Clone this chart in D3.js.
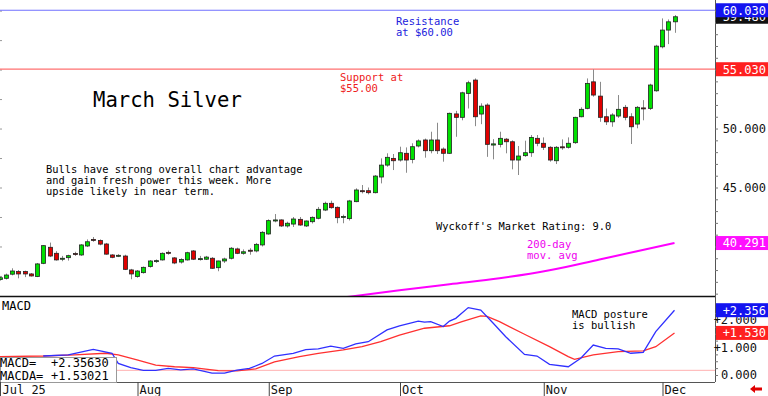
<!DOCTYPE html>
<html>
<head>
<meta charset="utf-8">
<script src="https://cdn.jsdelivr.net/npm/d3@7"></script>
<style>
  html, body { margin: 0; padding: 0; background: #fff; }
  svg { display: block; font-family: "DejaVu Sans Mono", monospace; }
</style>
</head>
<body>
<svg id="chart"></svg>
<script>
// daily bars, Jul 1 .. Dec 3 (index 0..108)
const opens = [37.20,37.30,37.65,37.87,37.87,37.67,37.45,38.57,39.93,39.42,38.95,39.05,39.40,39.28,40.04,40.60,40.50,40.21,39.28,39.17,39.19,38.01,
  37.45,37.78,38.30,38.72,38.86,39.50,39.03,38.68,38.86,39.62,38.92,38.92,39.00,38.20,38.77,39.00,39.79,39.42,39.68,39.62,40.13,
  41.06,42.16,42.25,41.74,41.90,42.30,41.74,42.10,42.39,43.09,43.66,43.32,42.50,42.36,43.80,44.73,44.73,44.56,45.89,46.90,47.47,
  47.33,47.90,47.37,48.52,49.03,48.12,49.03,48.26,47.90,51.24,50.95,52.98,54.11,51.23,51.99,48.60,48.66,49.10,48.88,47.33,47.70,47.95,49.17,
  48.75,48.41,47.27,48.45,48.41,48.80,51.00,51.71,53.96,52.75,51.00,50.57,51.06,51.80,51.00,50.38,51.75,51.71,53.20,
  56.93,58.35,59.05];
const highs = [37.45,37.70,38.15,38.00,37.95,37.75,38.60,40.10,40.33,39.60,39.20,39.30,39.55,40.20,40.60,40.80,40.60,40.30,39.35,39.35,39.30,38.10,
  38.00,38.30,38.85,38.90,39.50,39.65,39.10,39.00,39.55,39.70,39.20,39.20,39.10,38.80,39.05,39.95,39.90,39.75,39.85,40.30,41.30,
  42.30,42.75,42.30,42.10,42.50,42.50,42.20,42.55,43.35,43.80,43.88,43.40,42.70,43.95,44.93,45.21,45.00,46.06,47.47,47.90,47.84,
  48.46,48.40,48.75,49.08,49.15,49.73,50.49,48.40,51.35,51.50,53.12,54.05,54.25,52.14,52.14,49.10,49.73,49.20,49.00,48.52,48.97,49.45,49.45,
  49.25,48.50,48.52,49.08,49.25,51.00,51.80,54.25,55.02,53.96,51.70,51.30,52.84,52.00,51.30,51.91,52.41,53.80,57.10,
  59.34,59.25,59.62];
const lows = [37.10,37.20,37.55,37.30,37.40,37.45,37.40,38.50,39.10,38.80,38.75,38.80,39.20,39.20,39.95,40.40,40.10,39.30,39.00,39.10,38.00,37.22,
  37.35,37.70,38.20,38.60,38.80,39.30,38.50,38.55,38.80,38.85,38.80,38.85,38.10,37.90,38.60,38.90,39.35,39.30,39.30,39.50,40.00,
  41.00,42.05,41.65,41.60,41.65,41.75,41.65,41.95,42.30,43.00,43.20,41.97,41.97,42.20,43.75,44.50,44.42,44.50,45.35,46.76,46.48,
  47.20,46.25,47.05,48.40,47.53,47.90,47.84,47.19,47.85,49.30,50.70,51.70,50.20,50.37,47.60,47.39,48.40,47.90,46.54,46.06,47.60,47.60,48.50,
  48.18,47.19,46.99,48.20,48.30,48.70,50.95,51.63,52.70,50.57,50.30,50.15,50.90,50.70,48.69,50.02,50.70,51.57,53.12,
  56.80,57.16,58.12];
const closes = [37.35,37.58,37.92,37.67,37.67,37.50,38.52,40.07,39.19,38.86,39.00,39.22,39.35,40.13,40.40,40.55,40.20,39.35,39.08,39.25,38.06,37.67,
  37.92,38.23,38.77,38.80,39.42,39.45,38.60,38.90,39.47,38.92,38.97,39.10,38.15,38.77,38.94,39.85,39.42,39.55,39.62,40.18,41.20,
  42.19,42.25,41.74,41.97,42.33,41.82,42.16,42.47,43.15,43.66,43.29,42.44,42.55,43.86,44.79,44.70,44.56,45.97,46.90,47.56,47.27,
  47.95,47.33,48.46,48.95,48.12,49.03,48.12,47.90,51.29,50.95,53.03,53.88,51.00,51.90,48.66,48.70,49.17,48.88,47.33,47.67,47.95,49.25,48.75,
  48.41,47.33,48.41,48.38,48.75,50.95,51.63,53.83,52.84,50.95,50.57,51.15,51.63,50.95,50.15,51.80,51.71,53.69,56.99,
  58.35,59.05,59.48];

// 200-day moving average, read at a few bars
const maIdx = [53, 56, 64, 72, 80, 88, 96, 102, 108];
const maVals = [35.55, 35.74, 36.29, 36.80, 37.30, 37.98, 38.90, 39.60, 40.29];

// MACD (blue) and MACDA (red), read at a few bars
const macdIdx = [7, 11, 15, 18, 19, 21, 23, 25, 27, 29, 31, 34, 36, 38, 40, 42, 44, 47, 49, 51, 53, 55, 57, 59, 62, 64, 67, 68, 69, 71, 72, 73, 75, 77, 79, 81, 84, 86, 88, 91, 93, 95, 97, 99, 101, 103, 105, 108];
const macdVals = [0.69, 0.73, 0.93, 0.79, 0.42, 0.27, 0.17, 0.17, 0.24, 0.19, 0.22, 0.07, 0.07, 0.18, 0.24, 0.42, 0.69, 0.79, 0.92, 0.95, 1.05, 0.97, 1.13, 1.21, 1.64, 1.79, 1.96, 1.92, 1.94, 1.76, 1.96, 2.06, 2.45, 2.36, 1.88, 1.39, 0.75, 0.69, 0.39, 0.30, 0.61, 1.09, 0.97, 0.95, 0.79, 0.82, 1.58, 2.356];
const signalIdx = [0, 7, 12, 17, 19, 22, 25, 28, 31, 35, 38, 41, 44, 48, 51, 55, 58, 61, 64, 68, 72, 74, 77, 78, 80, 84, 88, 91, 92, 95, 99, 103, 105, 108];
const signalVals = [0.67, 0.69, 0.73, 0.79, 0.73, 0.55, 0.36, 0.30, 0.27, 0.16, 0.15, 0.22, 0.48, 0.67, 0.79, 0.91, 1.03, 1.21, 1.45, 1.70, 1.79, 1.94, 2.15, 2.13, 1.94, 1.48, 1.03, 0.67, 0.57, 0.73, 0.85, 0.88, 1.03, 1.530];

const monthIdx = [0, 22, 43, 64, 87, 106];
const monthLabels = ["Jul 25", "Aug", "Sep", "Oct", "Nov", "Dec"];
const priceTicks = [45, 50];
const macdTicks = [0, 1, 2];

const resistance = 60.03, support = 55.03;

const width = 768, height = 396;
const plotRight = 715;
const mainTop = 0, mainBottom = 296;
const macdTop = 297, macdBottom = 382;

const svg = d3.select("#chart").attr("width", width).attr("height", height);

const x = d3.scaleLinear().domain([0, 108]).range([-0.5, 674.5]);
const y = d3.scaleLinear().domain([35.8, 60.9]).range([mainBottom, mainTop]);
const yM = d3.scaleLinear().domain([0, 2.356]).range([375, 310.2]);

svg.append("defs").append("clipPath").attr("id", "mainClip")
  .append("rect").attr("x", 0).attr("y", 0).attr("width", plotRight).attr("height", mainBottom);
svg.select("defs").append("clipPath").attr("id", "macdClip")
  .append("rect").attr("x", 0).attr("y", macdTop).attr("width", plotRight).attr("height", macdBottom - macdTop);

// left edge ticks
svg.append("g")
  .call(d3.axisRight(y).tickValues(d3.range(37.5, 60.1, 2.5)).tickSize(2).tickFormat(""))
  .call(g => g.select(".domain").remove())
  .call(g => g.selectAll("line").attr("stroke", "#999"));

// support / resistance
const main = svg.append("g").attr("clip-path", "url(#mainClip)");
main.append("line")
  .attr("x1", 0).attr("x2", plotRight)
  .attr("y1", y(resistance)).attr("y2", y(resistance))
  .attr("stroke", "#7070ff").attr("stroke-width", 1.2);
main.append("line")
  .attr("x1", 0).attr("x2", plotRight)
  .attr("y1", y(support)).attr("y2", y(support))
  .attr("stroke", "#ff7070").attr("stroke-width", 1.2);

// 200-day MA
const maLine = d3.line().x(d => x(d[0])).y(d => y(d[1])).curve(d3.curveMonotoneX);
main.append("path")
  .datum(maIdx.map((d, i) => [d, maVals[i]]))
  .attr("d", maLine)
  .attr("fill", "none").attr("stroke", "#ff00ff").attr("stroke-width", 2);

// candles
const bars = opens.map((o, i) => ({ i, o, h: highs[i], l: lows[i], c: closes[i] }));
const candle = main.selectAll(".candle").data(bars).enter().append("g").attr("class", "candle");
candle.append("line")
  .attr("x1", d => Math.round(x(d.i)) + 0.5).attr("x2", d => Math.round(x(d.i)) + 0.5)
  .attr("y1", d => y(d.h)).attr("y2", d => y(d.l))
  .attr("stroke", "#8a8a8a").attr("stroke-width", 1);
candle.append("rect")
  .attr("x", d => Math.round(x(d.i)) - 1.5)
  .attr("width", 4)
  .attr("y", d => y(Math.max(d.o, d.c)))
  .attr("height", d => Math.max(1, Math.abs(y(d.o) - y(d.c))))
  .attr("fill", d => d.c >= d.o ? "#00e000" : "#e00000")
  .attr("stroke", "#222").attr("stroke-width", 0.8);

// text annotations
const note = (tx, ty, lines, color, size) => {
  const t = svg.append("text").attr("x", tx).attr("y", ty)
    .attr("fill", color).attr("font-size", size);
  lines.forEach((s, k) => t.append("tspan").attr("x", tx).attr("dy", k ? "1.06em" : 0).text(s));
};
note(396, 25, ["Resistance", "at $60.00"], "#2222dd", "10.5px");
note(340, 81, ["Support at", "$55.00"], "#ee2020", "10.5px");
note(93, 106.5, ["March Silver"], "#000", "20.6px");
note(46, 172.5, ["Bulls have strong overall chart advantage", "and gain fresh power this week. More", "upside likely in near term."], "#000", "10.4px");
note(436, 230, ["Wyckoff's Market Rating: 9.0"], "#000", "10.4px");
note(527, 248, ["200-day", "mov. avg"], "#ee00ee", "10.5px");

// right price axis
svg.append("line").attr("x1", plotRight + 0.5).attr("x2", plotRight + 0.5)
  .attr("y1", 0).attr("y2", macdBottom).attr("stroke", "#555").attr("stroke-width", 1);
svg.append("g")
  .attr("transform", `translate(${plotRight},0)`)
  .call(d3.axisRight(y).tickValues(d3.range(36, 61, 1)).tickSize(3).tickFormat(""))
  .call(g => g.select(".domain").remove())
  .call(g => g.selectAll("line").attr("stroke", "#777"));
svg.append("g")
  .attr("transform", `translate(${width - 2},0)`)
  .call(d3.axisLeft(y).tickValues(priceTicks).tickSize(0).tickPadding(0).tickFormat(d3.format(".3f")))
  .call(g => g.select(".domain").remove())
  .call(g => g.selectAll("text").attr("font-size", "12px").attr("font-family", "DejaVu Sans Mono").attr("fill", "#111"));

const priceBox = (val, txt, bg, scale) => {
  const cy = scale(val);
  svg.append("rect").attr("x", plotRight + 1).attr("y", cy - 7).attr("width", width - plotRight - 1).attr("height", 14).attr("fill", bg);
  svg.append("text").attr("x", width - 2).attr("y", cy).attr("dy", "0.36em")
    .attr("text-anchor", "end").attr("font-size", "12px").attr("fill", "#fff").text(txt);
};
priceBox(closes[closes.length - 1], d3.format(".3f")(closes[closes.length - 1]), "#111", y);
priceBox(resistance, "60.030", "#1414f0", y);
priceBox(support, "55.030", "#ff2020", y);
priceBox(maVals[maVals.length - 1] + 0.001, "40.291", "#ff10ff", y);

// panel separators
svg.append("line").attr("x1", 0).attr("x2", plotRight).attr("y1", mainBottom + 0.5).attr("y2", mainBottom + 0.5)
  .attr("stroke", "#111").attr("stroke-width", 1.5);
svg.append("line").attr("x1", 0).attr("x2", plotRight).attr("y1", macdBottom + 0.5).attr("y2", macdBottom + 0.5)
  .attr("stroke", "#555").attr("stroke-width", 1);

// MACD panel
const macdG = svg.append("g").attr("clip-path", "url(#macdClip)");
macdG.append("line").attr("x1", 0).attr("x2", plotRight)
  .attr("y1", yM(0.17)).attr("y2", yM(0.17)).attr("stroke", "#ffb0b0").attr("stroke-width", 1);
const mLine = d3.line().x(d => x(d[0])).y(d => yM(d[1]));
macdG.append("path").datum(signalIdx.map((d, i) => [d, signalVals[i]]))
  .attr("d", mLine).attr("fill", "none").attr("stroke", "#ff3030").attr("stroke-width", 1.3);
macdG.append("path").datum(macdIdx.map((d, i) => [d, macdVals[i]]))
  .attr("d", mLine).attr("fill", "none").attr("stroke", "#3030ff").attr("stroke-width", 1.3);

svg.append("g")
  .attr("transform", `translate(${plotRight},0)`)
  .call(d3.axisRight(yM).tickValues(d3.range(0, 2.5, 0.25)).tickSize(3).tickFormat(""))
  .call(g => g.select(".domain").remove())
  .call(g => g.selectAll("line").attr("stroke", "#777"));
svg.append("g")
  .attr("transform", `translate(${width - 11},0)`)
  .call(d3.axisLeft(yM).tickValues(macdTicks).tickSize(0).tickPadding(0)
    .tickFormat(d => (d > 0 ? "+" : "") + d3.format(".3f")(d)))
  .call(g => g.select(".domain").remove())
  .call(g => g.selectAll("text").attr("font-size", "12px").attr("font-family", "DejaVu Sans Mono").attr("fill", "#111"));
priceBox(macdVals[macdVals.length - 1], "+2.356", "#1414f0", yM);
priceBox(signalVals[signalVals.length - 1], "+1.530", "#ff2020", yM);

svg.append("text").attr("x", 2).attr("y", 309.5).attr("font-size", "12px").text("MACD");
note(572, 318, ["MACD posture", "is bullish"], "#000", "10.5px");

// value box
svg.append("rect").attr("x", 0.5).attr("y", 357.5).attr("width", 116).attr("height", 25)
  .attr("fill", "#fff").attr("stroke", "#999");
svg.append("text").attr("x", 0).attr("y", 367).attr("font-size", "12px").text("MACD=");
svg.append("text").attr("x", 51).attr("y", 367).attr("font-size", "12px").text("+" + d3.format(".5f")(2.3563));
svg.append("text").attr("x", 0).attr("y", 379.5).attr("font-size", "12px").text("MACDA=");
svg.append("text").attr("x", 51).attr("y", 379.5).attr("font-size", "12px").text("+" + d3.format(".5f")(1.53021));

// month axis
const monthAxis = svg.append("g").attr("transform", `translate(0,${macdBottom})`)
  .call(d3.axisBottom(x).tickValues(monthIdx).tickSize(14).tickFormat((d, k) => monthLabels[k]));
monthAxis.select(".domain").remove();
monthAxis.selectAll("line").attr("stroke", "#444").attr("transform", "translate(0.5,0)");
monthAxis.selectAll("text")
  .attr("font-size", "12px").attr("font-family", "DejaVu Sans Mono").attr("fill", "#111")
  .attr("text-anchor", "start").attr("x", 2).attr("y", 2).attr("dy", "0.8em");
monthAxis.selectAll(".tick").filter((d, k) => k === 0).select("text").attr("x", 2.5);

// red scroll arrow
svg.append("path")
  .attr("d", d3.line()([[750, 389], [755, 385], [755, 387.5], [762, 387.5], [762, 390.5], [755, 390.5], [755, 393]]))
  .attr("fill", "#e00000");
</script>
</body>
</html>
